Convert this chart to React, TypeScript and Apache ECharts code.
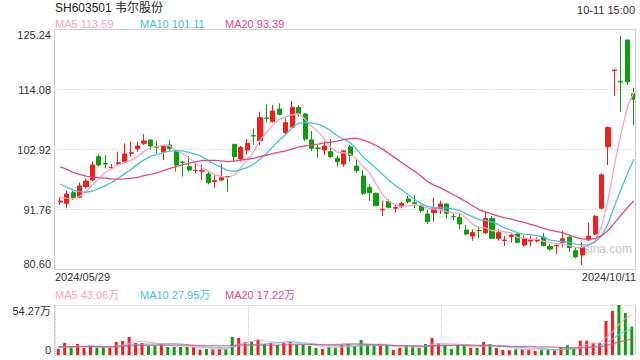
import React, { useEffect, useRef } from "react";
import * as echarts from "echarts";

// ---- data ----
const monthDays: [string, number[]][] = [
  ["2024/05", [29, 30, 31]],
  ["2024/06", [3, 4, 5, 6, 7, 11, 12, 13, 14, 17, 18, 19, 20, 21, 24, 25, 26, 27, 28]],
  ["2024/07", [1, 2, 3, 4, 5, 8, 9, 10, 11, 12, 15, 16, 17, 18, 19, 22, 23, 24, 25, 26, 29, 30, 31]],
  ["2024/08", [1, 2, 5, 6, 7, 8, 9, 12, 13, 14, 15, 16, 19, 20, 21, 22, 23, 26, 27, 28, 29, 30]],
  ["2024/09", [2, 3, 4, 5, 6, 9, 10, 11, 12, 13, 18, 19, 20, 23, 24, 25, 26, 27, 30]],
  ["2024/10", [8, 9, 10, 11]],
];

const opens = [
  93.16, 92.91, 94.89, 94.02, 96.01, 97.25, 101.59, 100.3, 99.5, 100.22,
  100.66, 102.2, 103.08, 104.07, 104.69, 103.45, 102.52, 103.76, 102.64, 100.6,
  99.73, 98.98, 98.9, 98.36, 96.95, 97.25, 97.9, 103.88, 101.16, 102.83,
  105.5, 104.56, 108.78, 108.1, 110.45, 106.05, 107.04, 110.76, 109.52, 104.69,
  103.2, 102.83, 102.52, 101.28, 100.2, 103.4, 99.85, 97.99, 95.88, 94.77,
  91.7, 93.22, 92.0, 92.29, 93.72, 93.03, 92.41, 90.92, 91.17, 91.79,
  92.78, 90.5, 90.3, 87.95, 86.83, 87.88, 87.45, 90.1, 86.4, 86.0,
  86.75, 87.2, 85.15, 85.9, 85.9, 86.6, 84.9, 85.0, 85.65, 86.6,
  84.1, 83.3, 86.1, 87.2, 92.0, 103.45, 117.6, 115.6, 123.29, 113.3,
];
const closes = [
  93.34, 94.64, 94.02, 96.13, 97.06, 100.04, 100.04, 100.22, 99.6, 100.47,
  102.08, 102.33, 103.57, 104.5, 103.57, 103.32, 103.63, 103.14, 100.04, 100.53,
  99.11, 99.05, 98.98, 96.75, 97.12, 97.68, 97.8, 101.59, 103.32, 104.07,
  105.43, 108.84, 108.72, 110.08, 109.46, 107.91, 110.76, 109.65, 104.87, 103.14,
  103.1, 103.57, 101.59, 100.66, 102.66, 101.8, 98.98, 94.77, 94.89, 92.47,
  91.79, 92.16, 92.1, 92.91, 93.22, 92.91, 91.54, 89.5, 91.97, 92.78,
  91.05, 90.43, 89.06, 87.2, 87.51, 87.82, 90.1, 86.4, 87.45, 86.09,
  87.0, 85.65, 86.3, 86.1, 86.15, 85.05, 84.4, 85.05, 86.3, 84.7,
  82.95, 84.7, 86.8, 90.5, 98.2, 107.0, 117.7, 115.5, 115.5, 112.25,
];
const lows = [
  92.6, 91.98, 93.53, 93.84, 95.7, 97.06, 99.73, 99.42, 99.23, 100.04,
  100.47, 101.59, 102.52, 103.76, 102.83, 102.21, 100.97, 102.7, 98.8, 97.87,
  98.8, 98.49, 97.25, 96.44, 95.82, 97.06, 95.07, 100.66, 100.66, 101.9,
  103.76, 103.76, 107.97, 107.97, 109.34, 105.74, 106.86, 109.03, 104.5, 102.64,
  101.4, 101.9, 101.28, 99.73, 99.73, 100.7, 98.61, 94.46, 93.34, 92.41,
  90.55, 91.98, 91.17, 91.98, 92.91, 91.98, 91.17, 89.06, 89.5, 90.92,
  90.1, 89.68, 88.07, 87.02, 85.96, 86.4, 87.2, 86.21, 85.96, 84.97,
  85.65, 85.5, 84.9, 84.9, 85.65, 84.9, 84.1, 83.5, 84.7, 83.8,
  82.7, 81.44, 85.9, 87.0, 91.8, 100.04, 112.87, 109.96, 114.92, 107.48,
];
const highs = [
  94.02, 95.26, 95.26, 96.75, 97.5, 100.66, 102.02, 101.9, 100.22, 102.52,
  104.07, 104.38, 104.38, 105.8, 104.81, 104.56, 103.76, 104.69, 102.83, 100.66,
  101.71, 100.35, 100.04, 98.92, 98.17, 100.16, 97.99, 103.88, 103.57, 104.87,
  106.86, 109.96, 111.32, 111.2, 111.51, 108.72, 111.94, 111.2, 109.65, 106.36,
  103.76, 104.38, 104.81, 101.77, 102.83, 103.76, 101.09, 99.11, 96.44, 94.89,
  93.4, 93.65, 92.6, 93.22, 94.27, 94.46, 92.78, 91.67, 93.96, 93.4,
  92.91, 91.05, 91.05, 88.88, 88.07, 88.69, 91.36, 90.55, 88.07, 86.83,
  87.2, 87.4, 86.9, 86.75, 86.6, 87.4, 85.35, 85.35, 87.8, 86.9,
  84.7, 85.6, 89.3, 90.7, 98.5, 107.2, 117.7, 124.03, 123.29, 114.42,
];
// volumes in 万 (10k lots)
const volumes = [
  6.5, 13.0, 8.0, 11.9, 7.6, 10.5, 8.0, 8.0, 8.0, 14.1,
  15.2, 19.5, 13.0, 13.0, 9.8, 9.8, 11.9, 8.7, 8.7, 8.7,
  8.7, 8.7, 5.8, 6.5, 6.0, 6.5, 6.5, 19.5, 18.5, 14.1,
  14.8, 17.0, 11.9, 13.0, 10.9, 13.0, 14.1, 10.9, 10.9, 9.8,
  7.6, 6.5, 8.7, 8.0, 10.9, 11.9, 9.8, 16.3, 10.9, 10.1,
  10.1, 9.8, 5.4, 7.6, 9.8, 9.8, 7.6, 11.9, 18.5, 12.7,
  10.9, 6.5, 10.9, 9.8, 7.6, 7.6, 14.1, 11.9, 7.6, 5.4,
  5.2, 6.2, 6.2, 6.2, 4.5, 6.2, 6.2, 5.2, 8.4, 10.6,
  6.5, 15.5, 15.5, 13.4, 13.3, 36.9, 47.8, 54.27, 45.6, 30.73,
];
// sessions before the visible window (needed for the moving averages)
const priorCloses = [
  104.5, 105.2, 104.0, 103.1, 103.8, 102.5, 101.6, 102.2, 101.8, 100.9,
  100.5, 99.6, 98.8, 98.4, 97.6, 95.6, 94.5, 93.9, 92.76,
];
const priorVolumes = [
  9.5, 8.2, 10.1, 7.8, 9.0, 8.6, 11.2, 9.4, 7.5, 8.8,
  10.4, 9.1, 8.0, 7.2, 9.6, 8.5, 10.0, 7.9, 8.8,
];
const maPeriods = [5, 10, 20];
const priceTicks = [80.6, 91.76, 102.92, 114.08, 125.24];
const volumeTicks = [0, 54.27];
const stockTitle = "SH603501 韦尔股份";
const timeStamp = "10-11 15:00";

// ---- styles ----
const RED = "#f21d1d";
const GREEN = "#0c9e0c";
const MA_COLORS = ["#fba3c1", "#3fc4e6", "#e8477c"];
const FONT = "Arial, 'Liberation Sans', 'Noto Sans CJK SC', sans-serif";

const dates: string[] = monthDays.flatMap(([ym, ds]) =>
  ds.map((d) => `${ym}/${String(d).padStart(2, "0")}`)
);

function movingAvg(prior: number[], vals: number[], n: number): number[] {
  const all = prior.concat(vals);
  const off = prior.length;
  return vals.map((_, i) => {
    let s = 0;
    for (let k = off + i - n + 1; k <= off + i; k++) s += all[k];
    return s / n;
  });
}

export default function App() {
  const ref = useRef<HTMLDivElement>(null);

  useEffect(() => {
    if (!ref.current) return;
    const chart = echarts.init(ref.current, undefined, { renderer: "svg" });

    const base = priceTicks[0];
    const step = priceTicks[1] - priceTicks[0];
    const top = priceTicks[priceTicks.length - 1] - base;
    const shift = (v: number) => +(v - base).toFixed(4);

    const candle = opens.map((o, i) => [shift(o), shift(closes[i]), shift(lows[i]), shift(highs[i])]);
    const priceMA = maPeriods.map((n) => movingAvg(priorCloses, closes, n));
    const volMA = maPeriods.map((n) => movingAvg(priorVolumes, volumes, n));
    const volBars = volumes.map((v, i) => ({
      value: v,
      itemStyle: { color: closes[i] >= opens[i] ? RED : GREEN },
    }));

    const last = (a: number[]) => a[a.length - 1];
    const legendX = [55, 140, 225];

    const texts: any[] = [
      { type: "text", left: 55, top: 2, style: { text: stockTitle, fill: "#222", font: `12px ${FONT}` } },
      { type: "text", right: 5, top: 4, style: { text: timeStamp, fill: "#333", font: `11px ${FONT}` } },
      { type: "text", left: 55, top: 271, style: { text: dates[0], fill: "#333", font: `11px ${FONT}` } },
      { type: "text", right: 4, top: 271, style: { text: dates[dates.length - 1], fill: "#333", font: `11px ${FONT}` } },
      { type: "text", left: 584, top: 243, z: 1, style: { text: "sina.com", fill: "#c6c6c6", font: `12px ${FONT}` } },
      {
        type: "rect", silent: true, z: 10,
        shape: { x: 54.5, y: 29.5, width: 581, height: 240 },
        style: { fill: "none", stroke: "#cfcfcf", lineWidth: 1 },
      },
      { type: "line", z: 10, shape: { x1: 54.5, y1: 305, x2: 54.5, y2: 355 }, style: { stroke: "#cfcfcf", lineWidth: 1 } },
      { type: "line", z: 10, shape: { x1: 635.5, y1: 305, x2: 635.5, y2: 355 }, style: { stroke: "#cfcfcf", lineWidth: 1 } },
    ];
    maPeriods.forEach((n, k) => {
      texts.push({
        type: "text", left: legendX[k], top: 18,
        style: { text: `MA${n} ${last(priceMA[k]).toFixed(2)}`, fill: MA_COLORS[k], font: `11px ${FONT}` },
      });
      texts.push({
        type: "text", left: legendX[k], top: 289,
        style: { text: `MA${n} ${last(volMA[k]).toFixed(2)}万`, fill: MA_COLORS[k], font: `11px ${FONT}` },
      });
    });

    const option: any = {
      animation: false,
      textStyle: { fontFamily: FONT },
      grid: [
        { left: 57, right: 3, top: 29.5, height: 240 },
        { left: 55, right: 5, top: 305, height: 50 },
      ],
      xAxis: [
        {
          type: "category", gridIndex: 0, data: dates, boundaryGap: true,
          axisLine: { show: false }, axisTick: { show: false }, axisLabel: { show: false },
          splitLine: { show: false },
        },
        {
          type: "category", gridIndex: 1, data: dates, boundaryGap: true,
          axisLine: { show: false }, axisTick: { show: false }, axisLabel: { show: false },
          splitLine: { show: true, interval: 29, lineStyle: { color: "#cccccc", type: "dotted" } },
        },
      ],
      yAxis: [
        {
          type: "value", gridIndex: 0, min: 0, max: top, interval: step,
          axisLine: { show: false }, axisTick: { show: false },
          axisLabel: {
            margin: 6, color: "#333", fontSize: 11, fontFamily: FONT,
            formatter: (v: number) => (v + base).toFixed(2),
            verticalAlignMinLabel: "bottom", verticalAlignMaxLabel: "top",
          },
          splitLine: { show: true, lineStyle: { color: "#d6d6d6", type: "dotted", width: 1.2 } },
        },
        {
          type: "value", gridIndex: 1, min: volumeTicks[0], max: volumeTicks[1],
          interval: volumeTicks[1] - volumeTicks[0],
          axisLine: { show: false }, axisTick: { show: false },
          axisLabel: {
            margin: 4, color: "#333", fontSize: 11, fontFamily: FONT,
            formatter: (v: number) => (v === 0 ? "0" : `${v.toFixed(2)}万`),
            verticalAlignMinLabel: "bottom", verticalAlignMaxLabel: "top",
          },
          splitLine: { show: true, lineStyle: { color: "#cccccc", type: "dotted", width: 1.2 } },
        },
      ],
      graphic: texts,
      series: [
        {
          type: "candlestick", xAxisIndex: 0, yAxisIndex: 0, data: candle, barWidth: 4.6,
          itemStyle: { color: RED, color0: GREEN, borderColor: RED, borderColor0: GREEN, borderWidth: 1 },
          z: 3,
        },
        ...priceMA.map((arr, k) => ({
          type: "line", xAxisIndex: 0, yAxisIndex: 0, data: arr.map(shift),
          showSymbol: false, symbol: "none", lineStyle: { color: MA_COLORS[k], width: 1.3 }, z: 4,
        })),
        {
          type: "bar", xAxisIndex: 1, yAxisIndex: 1, data: volBars, barWidth: 3, z: 3,
        },
        ...volMA.map((arr, k) => ({
          type: "line", xAxisIndex: 1, yAxisIndex: 1, data: arr.map((v) => +v.toFixed(3)),
          showSymbol: false, symbol: "none", lineStyle: { color: MA_COLORS[k], width: 1.3, opacity: 0.75 }, z: 4,
        })),
      ],
    };

    chart.setOption(option);
    return () => chart.dispose();
  }, []);

  return <div ref={ref} style={{ width: 640, height: 360, position: "absolute", left: 0, top: 0 }} />;
}
